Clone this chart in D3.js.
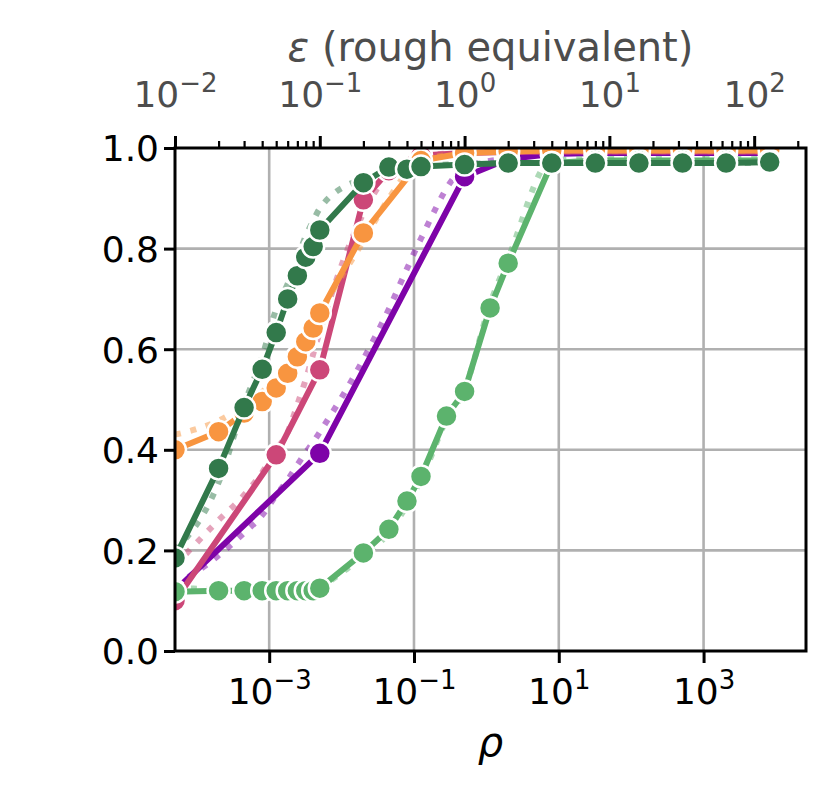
<!DOCTYPE html>
<html>
<head>
<meta charset="utf-8">
<script src="https://cdnjs.cloudflare.com/ajax/libs/d3/7.8.5/d3.min.js"></script>
<style>
  body { margin: 0; background: #fff; }
  svg text { font-family: "DejaVu Sans", sans-serif; }
</style>
</head>
<body>
<svg id="chart" width="832" height="805"></svg>
<script>
// ---- data (x is epsilon, bottom axis is rho = eps^2 / 2) ----
var epsGrid = [0.01, 0.02, 0.03, 0.04, 0.05, 0.06, 0.07, 0.08, 0.09, 0.1, 0.2, 0.3, 0.4, 0.5, 1, 2, 4, 8, 16, 32, 64, 128];

var epsPurple = [0.01, 0.1, 1, 2, 4, 8, 16, 32, 64, 128];
var accPurple = [0.12, 0.393, 0.943, 0.978, 0.988, 0.99, 0.99, 0.99, 0.99, 0.99];
var refPurple = [0.13, 0.19, 0.235, 0.27, 0.31, 0.34, 0.37, 0.395, 0.415, 0.435, 0.58, 0.68, 0.76, 0.82, 0.96, 0.98, 0.99, 0.99, 0.99, 0.99, 0.99, 0.99];

var epsPink = [0.01, 0.05, 0.1, 0.2, 0.3, 0.5, 1, 2, 4, 8, 16, 32, 64, 128];
var accPink = [0.10, 0.39, 0.559, 0.897, 0.955, 0.985, 0.99, 0.992, 0.993, 0.993, 0.993, 0.993, 0.993, 0.993];
var refPink = [0.17, 0.26, 0.31, 0.355, 0.40, 0.435, 0.49, 0.54, 0.59, 0.635, 0.87, 0.95, 0.975, 0.985, 0.99, 0.993, 0.993, 0.993, 0.993, 0.993, 0.993, 0.993];

var epsOrange = [0.01, 0.02, 0.03, 0.04, 0.05, 0.06, 0.07, 0.08, 0.09, 0.1, 0.2, 0.5, 1, 2, 4, 8, 16, 32, 64, 128];
var accOrange = [0.40, 0.436, 0.473, 0.496, 0.523, 0.552, 0.585, 0.615, 0.642, 0.672, 0.831, 0.975, 0.99, 0.993, 0.995, 0.995, 0.995, 0.995, 0.995, 0.995];
var refOrange = [0.43, 0.458, 0.488, 0.515, 0.54, 0.565, 0.59, 0.618, 0.645, 0.67, 0.815, 0.9, 0.95, 0.975, 0.99, 0.995, 0.995, 0.995, 0.995, 0.995, 0.995, 0.995];

var epsLight = [0.01, 0.02, 0.03, 0.04, 0.05, 0.06, 0.07, 0.08, 0.09, 0.1, 0.2, 0.3, 0.4, 0.5, 0.75, 1, 1.5, 2, 4, 8, 16, 32, 64, 128];
var accLight = [0.118, 0.12, 0.12, 0.12, 0.12, 0.12, 0.12, 0.12, 0.12, 0.125, 0.195, 0.242, 0.298, 0.347, 0.467, 0.516, 0.682, 0.771, 0.97, 0.975, 0.975, 0.975, 0.975, 0.975];
var refLight = [0.125, 0.123, 0.122, 0.122, 0.122, 0.122, 0.122, 0.122, 0.122, 0.128, 0.19, 0.235, 0.29, 0.34, 0.46, 0.52, 0.69, 0.78, 0.975, 0.978, 0.978, 0.978, 0.978, 0.978];

var epsDark = epsGrid;
var accDark = [0.185, 0.363, 0.484, 0.560, 0.633, 0.700, 0.746, 0.783, 0.804, 0.837, 0.931, 0.962, 0.958, 0.963, 0.967, 0.970, 0.970, 0.970, 0.970, 0.970, 0.970, 0.972];
var refDark = [0.20, 0.335, 0.49, 0.585, 0.68, 0.73, 0.78, 0.825, 0.855, 0.88, 0.94, 0.955, 0.962, 0.965, 0.968, 0.97, 0.97, 0.97, 0.97, 0.97, 0.97, 0.97];

var rhoTicks = [1e-3, 1e-1, 1e1, 1e3];
var epsTicks = [0.01, 0.1, 1, 10, 100];
var accTicks = [0, 0.2, 0.4, 0.6, 0.8, 1.0];

// drawing order: purple first, dark green last (on top)
var seriesList = [
    {color: "#7e03a8", eps: epsPurple, acc: accPurple, refEps: epsGrid,  ref: refPurple},
    {color: "#cc4778", eps: epsPink,   acc: accPink,   refEps: epsGrid,  ref: refPink},
    {color: "#f89540", eps: epsOrange, acc: accOrange, refEps: epsGrid,  ref: refOrange},
    {color: "#5cb36d", eps: epsLight,  acc: accLight,  refEps: epsLight, ref: refLight},
    {color: "#32794b", eps: epsDark,   acc: accDark,   refEps: epsGrid,  ref: refDark}
];

var W = 832, H = 805;
var plot = {left: 175, right: 806, top: 148, bottom: 651};
var tickFont = 36, labelFont = 40;

var svg = d3.select("#chart");

var xEps = d3.scaleLog().domain([0.01, 228]).range([plot.left, plot.right]);
var xRho = d3.scaleLog().domain([5e-5, 228 * 228 / 2]).range([plot.left, plot.right]);
var y = d3.scaleLinear().domain([0, 1]).range([plot.bottom, plot.top]);

svg.append("defs").append("clipPath").attr("id", "plot-clip")
    .append("rect")
    .attr("x", plot.left).attr("y", plot.top)
    .attr("width", plot.right - plot.left).attr("height", plot.bottom - plot.top);

// grid: vertical lines only at the labelled rho ticks
var grid = svg.append("g").attr("class", "grid").attr("stroke", "#b0b0b0").attr("stroke-width", 2.6);
grid.selectAll("line.gx").data(rhoTicks).enter().append("line")
    .attr("x1", d => xRho(d)).attr("x2", d => xRho(d))
    .attr("y1", plot.top).attr("y2", plot.bottom);
grid.selectAll("line.gy").data(accTicks.slice(1, -1)).enter().append("line")
    .attr("x1", plot.left).attr("x2", plot.right)
    .attr("y1", d => y(d)).attr("y2", d => y(d));

var marks = svg.append("g").attr("clip-path", "url(#plot-clip)");

var line = d3.line().x(d => xEps(d[0])).y(d => y(d[1]));
var curve = d3.line().x(d => xEps(d[0])).y(d => y(d[1])).curve(d3.curveMonotoneX);

seriesList.forEach(function (s) {
    var refPts = d3.zip(s.refEps, s.ref);
    var pts = d3.zip(s.eps, s.acc);

    // pale dotted companion curve
    marks.append("path")
        .attr("d", curve(refPts))
        .attr("fill", "none")
        .attr("stroke", s.color)
        .attr("stroke-opacity", 0.5)
        .attr("stroke-width", 6)
        .attr("stroke-dasharray", "6 9.9");

    marks.append("path")
        .attr("d", line(pts))
        .attr("fill", "none")
        .attr("stroke", s.color)
        .attr("stroke-width", 6)
        .attr("stroke-linejoin", "round");

    marks.selectAll(null).data(pts).enter().append("circle")
        .attr("cx", d => xEps(d[0]))
        .attr("cy", d => y(d[1]))
        .attr("r", 11)
        .attr("fill", s.color)
        .attr("stroke", "#fff")
        .attr("stroke-width", 2.5);
});

// superscript tick labels like 10^-3
function powerLabel(text, d) {
    var exp = Math.round(Math.log10(d));
    text.text(null);
    text.append("tspan").text("10");
    text.append("tspan").attr("dy", -15).attr("font-size", 26)
        .text(exp < 0 ? "\u2212" + (-exp) : String(exp));
}

// bottom axis (rho)
var gBottom = svg.append("g").attr("transform", "translate(0," + plot.bottom + ")")
    .call(d3.axisBottom(xRho).tickValues(rhoTicks).tickSize(12).tickPadding(0).tickFormat(() => ""));
gBottom.select(".domain").remove();
gBottom.selectAll(".tick line").attr("stroke", "#000").attr("stroke-width", 3);
gBottom.selectAll(".tick text")
    .attr("y", 53).attr("dy", 0)
    .attr("font-size", tickFont).attr("fill", "#000")
    .each(function (d) { powerLabel(d3.select(this), d); });

// top axis (epsilon), major + minor ticks
var epsMinor = [];
epsTicks.forEach(function (base) {
    [2, 3, 4, 5, 6, 7, 8, 9].forEach(function (k) { if (base * k <= 228) epsMinor.push(base * k); });
});
var gTopMinor = svg.append("g").attr("transform", "translate(0," + plot.top + ")")
    .call(d3.axisTop(xEps).tickValues(epsMinor).tickSize(7).tickFormat(() => ""));
gTopMinor.select(".domain").remove();
gTopMinor.selectAll(".tick line").attr("stroke", "#000").attr("stroke-width", 2.2);

var gTop = svg.append("g").attr("transform", "translate(0," + plot.top + ")")
    .call(d3.axisTop(xEps).tickValues(epsTicks).tickSize(12).tickFormat(() => ""));
gTop.select(".domain").remove();
gTop.selectAll(".tick line").attr("stroke", "#000").attr("stroke-width", 3);
gTop.selectAll(".tick text")
    .attr("y", -41).attr("dy", 0)
    .attr("font-size", tickFont).attr("fill", "#4d4d4d")
    .each(function (d) { powerLabel(d3.select(this), d); });

// left axis
var gLeft = svg.append("g").attr("transform", "translate(" + plot.left + ",0)")
    .call(d3.axisLeft(y).tickValues(accTicks).tickSize(11).tickPadding(5).tickFormat(d3.format(".1f")));
gLeft.select(".domain").remove();
gLeft.selectAll(".tick line").attr("stroke", "#000").attr("stroke-width", 3);
gLeft.selectAll(".tick text").attr("font-size", tickFont).attr("fill", "#000").attr("dy", "0.36em");

// frame
svg.append("rect")
    .attr("x", plot.left).attr("y", plot.top)
    .attr("width", plot.right - plot.left).attr("height", plot.bottom - plot.top)
    .attr("fill", "none").attr("stroke", "#000").attr("stroke-width", 3);

// axis titles
svg.append("text")
    .attr("x", (plot.left + plot.right) / 2).attr("y", 756)
    .attr("text-anchor", "middle").attr("font-size", labelFont).attr("font-style", "italic")
    .text("\u03c1");

var topTitle = svg.append("text")
    .attr("x", (plot.left + plot.right) / 2).attr("y", 61)
    .attr("text-anchor", "middle").attr("font-size", labelFont).attr("fill", "#4d4d4d");
topTitle.append("tspan").attr("font-style", "italic").text("\u03b5");
topTitle.append("tspan").text(" (rough equivalent)");
</script>
</body>
</html>
